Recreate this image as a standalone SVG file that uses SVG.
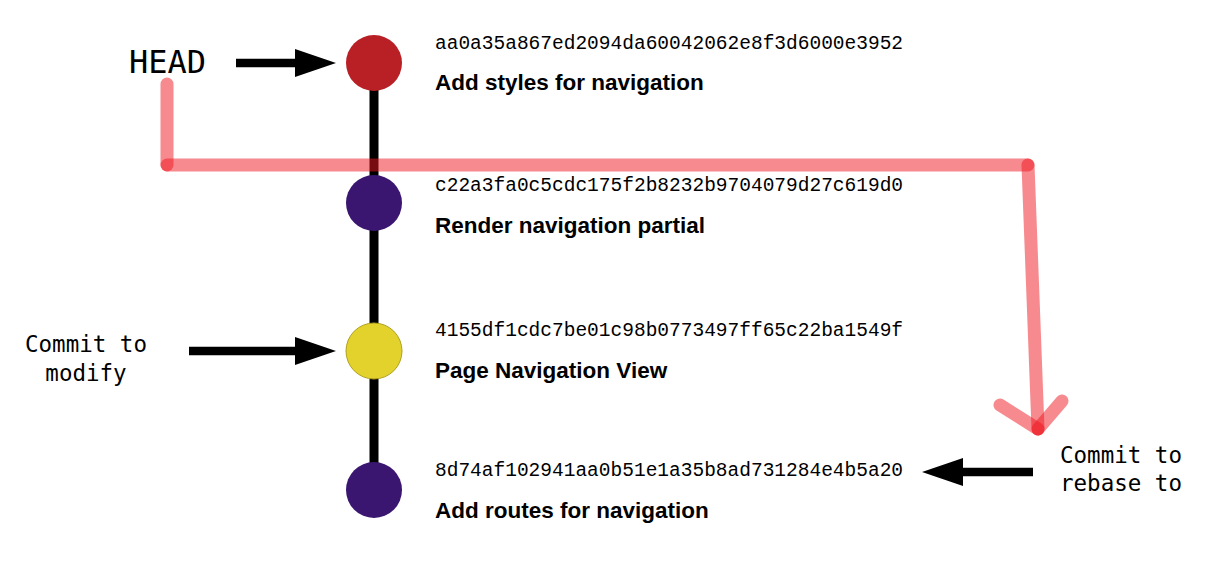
<svg xmlns="http://www.w3.org/2000/svg" width="1206" height="565" viewBox="0 0 1206 565">
<style>
.hash{font-family:"Liberation Mono","DejaVu Sans Mono",monospace;font-size:19.5px;fill:#000}
.title{font-family:"Liberation Sans",Arial,sans-serif;font-weight:bold;font-size:22.5px;fill:#000}
.label{font-family:"DejaVu Sans Mono",monospace;font-size:22.5px;fill:#000}
.pink{stroke:rgb(237,21,29);stroke-opacity:0.5;stroke-width:13;stroke-linecap:round;fill:none}
.arr{stroke:#000;stroke-width:8.5;fill:none}
</style>
<rect width="1206" height="565" fill="#fff"/>
<g id="connectors">
<line x1="374" y1="63" x2="374" y2="490" stroke="#000" stroke-width="9"/>
<line class="arr" x1="236" y1="63" x2="297" y2="63"/>
<polygon points="295,49 336,63 295,77" fill="#000"/>
<line class="arr" x1="189" y1="351" x2="297" y2="351"/>
<polygon points="295,337 336,351 295,365" fill="#000"/>
<line class="arr" x1="961" y1="472" x2="1033" y2="472"/>
<polygon points="963,458 922,472 963,486" fill="#000"/>
</g>
<g id="commit1">
<circle cx="374" cy="63" r="28" fill="#b82025"/>
<text class="hash" x="435" y="49">aa0a35a867ed2094da60042062e8f3d6000e3952</text>
<text class="title" x="435" y="90">Add styles for navigation</text>
</g>
<g id="commit2">
<circle cx="374" cy="203" r="28" fill="#3a1670"/>
<text class="hash" x="435" y="191">c22a3fa0c5cdc175f2b8232b9704079d27c619d0</text>
<text class="title" x="435" y="233">Render navigation partial</text>
</g>
<g id="commit3">
<circle cx="374" cy="351" r="28" fill="#e2d22b" stroke="#b0a020" stroke-width="1"/>
<text class="hash" x="435" y="336">4155df1cdc7be01c98b0773497ff65c22ba1549f</text>
<text class="title" x="435" y="378">Page Navigation View</text>
</g>
<g id="commit4">
<circle cx="374" cy="490" r="28" fill="#3a1670"/>
<text class="hash" x="435" y="476">8d74af102941aa0b51e1a35b8ad731284e4b5a20</text>
<text class="title" x="435" y="518">Add routes for navigation</text>
</g>
<g id="head">
<text x="129" y="73" font-family="DejaVu Sans Mono,monospace" font-size="32">HEAD</text>
</g>
<g id="modify-label">
<text class="label" x="86" y="352" text-anchor="middle">Commit to</text>
<text class="label" x="86" y="381" text-anchor="middle">modify</text>
</g>
<g id="rebase-label">
<text class="label" x="1121" y="463" text-anchor="middle">Commit to</text>
<text class="label" x="1121" y="491" text-anchor="middle">rebase to</text>
</g>
<g id="rebase-path">
<line class="pink" x1="167" y1="84" x2="167" y2="165"/>
<line class="pink" x1="167" y1="165" x2="1028" y2="165"/>
<line class="pink" x1="1028" y1="165" x2="1038" y2="429"/>
<line class="pink" x1="1000" y1="405" x2="1038" y2="429"/>
<line class="pink" x1="1062" y1="401" x2="1038" y2="429"/>
</g>
</svg>
